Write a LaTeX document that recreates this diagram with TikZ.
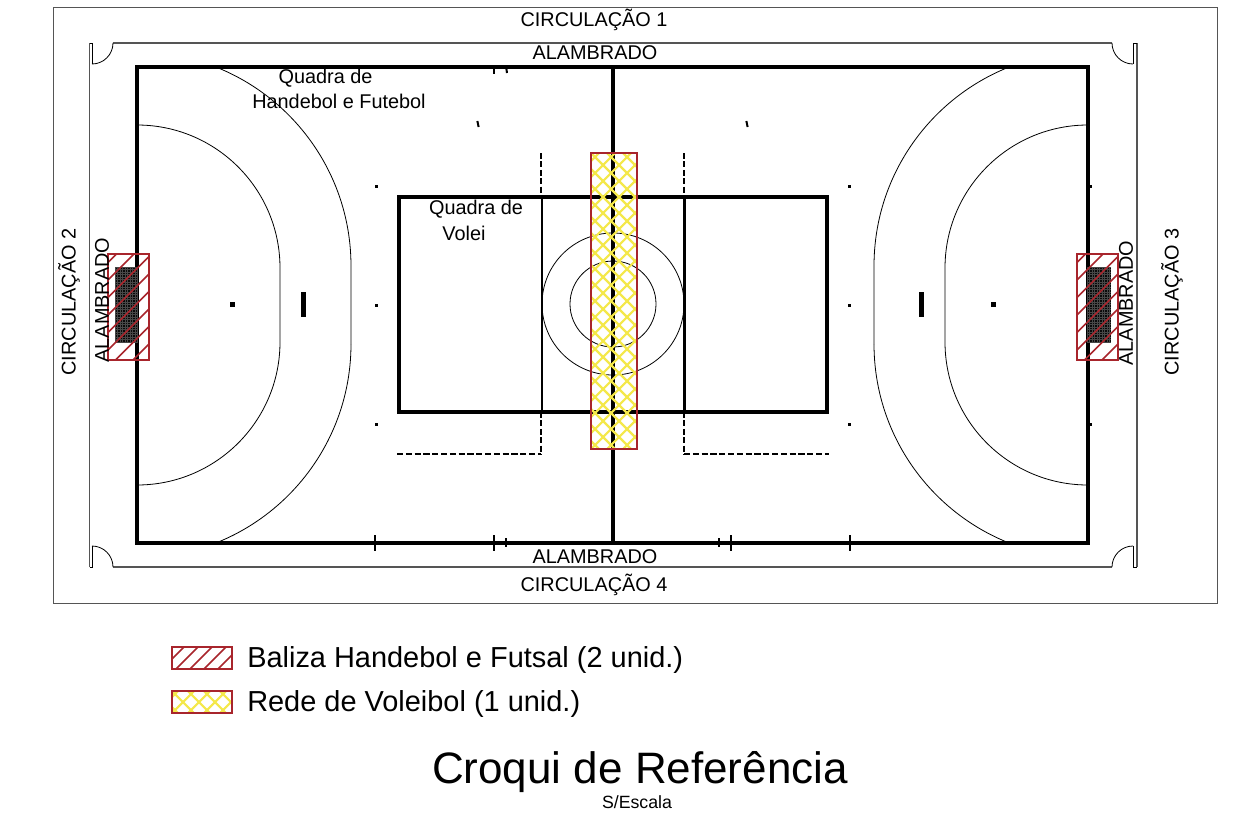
\documentclass[tikz,border=0pt]{standalone}
\usepackage{fontspec}
\setmainfont{Liberation Sans}
\definecolor{netred}{HTML}{A8252C}
\definecolor{nety}{HTML}{F4E84A}
\definecolor{wallg}{HTML}{555555}
\newcommand{\fs}[1]{\fontsize{#1}{#1}\selectfont}
\tikzset{
 x=0.75pt,y=-0.75pt,
 court/.style={line width=2.4pt,black,line join=miter},
 inner line/.style={line width=1.9pt,black},
 thin arc/.style={line width=0.6pt,black},
 wall/.style={line width=1.1pt,wallg},
 dashline/.style={line width=1.6pt,black,dash pattern=on 4.5pt off 1.8pt},
 dashflat/.style={line width=2pt,black,dash pattern=on 4.6pt off 2pt},
 tick/.style={line width=1.9pt,black},
 lab/.style={inner sep=0pt,font=\fs{14.9}},
 hatchred/.style={line width=1.3pt,netred},
 hatchy/.style={line width=1.6pt,nety},
 redbox/.style={line width=1.4pt,netred},
}
\newcommand{\balhatch}[5]{%
 \begin{scope}
 \clip (#1,#2) rectangle (#3,#4);
 \foreach \k in {0,...,60}{\draw[hatchred] ({#1-150+\k*#5},#4) -- ++(150,-150);}
 \end{scope}
 \draw[redbox] (#1,#2) rectangle (#3,#4);}
\newcommand{\nethatch}[4]{%
 \begin{scope}
 \clip (#1,#2) rectangle (#3,#4);
 \foreach \k in {0,...,40}{
  \draw[hatchy] ({#1-320+\k*16},#4) -- ++(320,-320);
  \draw[hatchy] ({#1-320+\k*16},#2) -- ++(320,320);}
 \end{scope}
 \draw[redbox] (#1,#2) rectangle (#3,#4);}
\newcommand{\goalnet}[4]{%
 \fill[black!96] (#1,#2) rectangle (#3,#4);
 \begin{scope}
 \clip (#1,#2) rectangle (#3,#4);
 \foreach \k in {0,...,40}{
  \draw[line width=0.1pt,black!72] ({#1+\k*2.5},#2) -- ({#1+\k*2.5},#4);
  \draw[line width=0.1pt,black!72] (#1,{#2+\k*2.5}) -- (#3,{#2+\k*2.5});}
 \end{scope}}
\begin{document}
\begin{tikzpicture}
\useasboundingbox (0,0) rectangle (1235,825);
\fill[white] (0,0) rectangle (1235,825);
% outer frame
\draw[line width=0.65pt,wallg] (53,7) rectangle (1217,603);
% fence
\draw[wall] (113,43) -- (1112,43);
\draw[wall] (113,567) -- (1112,567);
\draw[wall] (89.5,43) -- (89.5,567);
\draw[wall] (1137,43) -- (1137,567);
% gates
\draw[thin arc] (113,43) arc[start angle=0,end angle=90,radius=21];
\draw[thin arc] (89.5,43) -- (92,43) -- (92,64);
\draw[thin arc] (1112,43) arc[start angle=180,end angle=90,radius=21];
\draw[thin arc] (1137,43) -- (1133.5,43) -- (1133.5,64);
\draw[thin arc] (113,567) arc[start angle=0,end angle=-90,radius=21];
\draw[thin arc] (89.5,567) -- (92,567) -- (92,546);
\draw[thin arc] (1112,567) arc[start angle=180,end angle=270,radius=21];
\draw[thin arc] (1137,567) -- (1133.5,567) -- (1133.5,546);
% handball arcs
\begin{scope}
\clip (137,67) rectangle (1088,543);
\draw[thin arc] (137,125) arc[start angle=-90,end angle=0,radius=143] -- (280,342) arc[start angle=0,end angle=90,radius=143];
\draw[thin arc] (351,344) -- (351,266) arc[start angle=0,end angle=-90,radius=214];
\draw[thin arc] (351,344) arc[start angle=0,end angle=90,radius=214];
\draw[thin arc] (1088,125) arc[start angle=-90,end angle=-180,radius=143] -- (945,342) arc[start angle=180,end angle=90,radius=143];
\draw[thin arc] (874,344) -- (874,266) arc[start angle=180,end angle=270,radius=214];
\draw[thin arc] (874,344) arc[start angle=180,end angle=90,radius=214];
\end{scope}
% circles
\draw[thin arc] (613,304) circle[radius=71];
\draw[thin arc] (613,304) circle[radius=43];
% court
\draw[court] (137,67) rectangle (1088,543);
\draw[court] (613,67) -- (613,543);
% volleyball
\draw[court] (399,197) rectangle (827,412);
\draw[inner line] (542,197) -- (542,412);
\draw[inner line] (684.5,197) -- (684.5,412);
\draw[dashline] (541,153) -- (541,197);
\draw[dashline] (684,153) -- (684,197);
\draw[dashline] (541,412) -- (541,455);
\draw[dashline] (684,412) -- (684,455);
\draw[dashflat] (397,454) -- (541,454);
\draw[dashflat] (684,454) -- (829,454);
% marks
\fill (230,302) rectangle (235,307);
\fill (990.5,302) rectangle (995.5,307);
\fill (301,292) rectangle (306,317);
\fill (919,292) rectangle (924,317);
\foreach \px/\py in {376/186,376/305,376/424,849/186,849/305,849/424,1090/186,1090/424,613/304}
 \fill (\px-1.5,\py-1.5) rectangle (\px+1.5,\py+1.5);
\foreach \px/\py in {478/124,747/124}
 \draw[line width=1.5pt] (\px-0.6,\py-3) -- (\px+0.6,\py+3);
% ticks
\foreach \px in {375,494,731,850} \draw[tick] (\px,535) -- (\px,551);
\foreach \px in {506,719} \draw[tick,line width=1.4pt] (\px,538) -- (\px,547);
\draw[tick] (494,67) -- (494,74);
\draw[tick,line width=1.5pt] (506,66) -- (507,73);
% goals
\goalnet{115}{267}{138}{342}
\goalnet{1087}{267}{1111}{342}
\balhatch{108}{254}{149}{360}{17.5}
\balhatch{1077}{254}{1118}{360}{17.5}
\nethatch{591}{153}{637}{449}
% labels
\node[lab] (c1) at (594,20) {CIRCULAÇÃO 1};
\node[lab] (a1) at (595,53) {ALAMBRADO};
\node[lab] (a4) at (595,557) {ALAMBRADO};
\node[lab] (c4) at (594,585) {CIRCULAÇÃO 4};
\node[lab,rotate=90] (c2) at (69,302) {CIRCULAÇÃO 2};
\node[lab,rotate=90] (a2) at (102,300) {ALAMBRADO};
\node[lab,rotate=90] (a3) at (1126,303) {ALAMBRADO};
\node[lab,rotate=90] (c3) at (1172,302) {CIRCULAÇÃO 3};
\node[lab] (q1) at (325.5,78) {Quadra de};
\node[lab] (q2) at (339,101) {Handebol e Futebol};
\node[lab] (v1) at (476,209.5) {Quadra de};
\node[lab] (v2) at (464,233) {Volei};
% legend
\balhatch{172}{647}{232}{669}{14}
\nethatch{172}{691}{232}{713}
\node[inner sep=0pt,anchor=west,font=\fs{21.7}] (l1) at (247,660) {Baliza Handebol e Futsal (2 unid.)};
\node[inner sep=0pt,anchor=west,font=\fs{21.7}] (l2) at (247,704) {Rede de Voleibol (1 unid.)};
\node[inner sep=0pt,font=\fs{33}] (t1) at (640,772) {Croqui de Referência};
\node[inner sep=0pt,font=\fs{13.3}] (t2) at (637,802) {S/Escala};
\end{tikzpicture}
\end{document}
